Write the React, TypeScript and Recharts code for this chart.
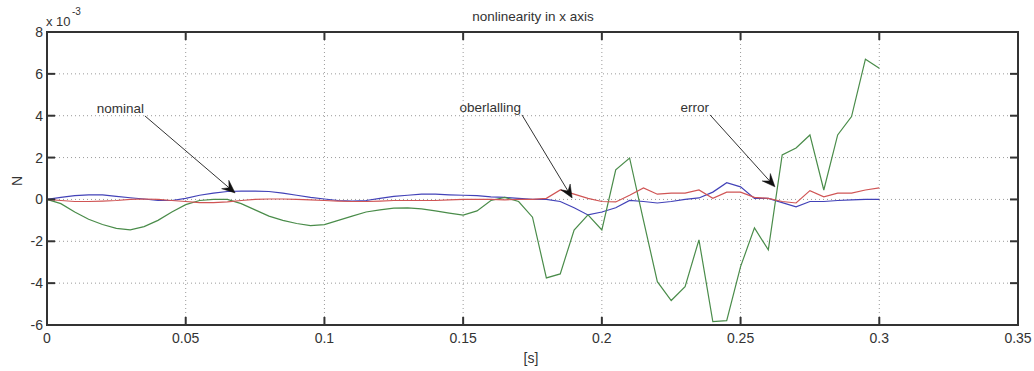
import React from 'react';
import { LineChart, Line, XAxis, YAxis, CartesianGrid, ReferenceLine } from 'recharts';

// time axis [s]
const time = [
  0, 0.005, 0.01, 0.015, 0.02, 0.025, 0.03, 0.035, 0.04, 0.045,
  0.05, 0.055, 0.06, 0.065, 0.07, 0.075, 0.08, 0.085, 0.09, 0.095,
  0.1, 0.105, 0.11, 0.115, 0.12, 0.125, 0.13, 0.135, 0.14, 0.145,
  0.15, 0.155, 0.16, 0.165, 0.17, 0.175, 0.18, 0.185, 0.19, 0.195,
  0.2, 0.205, 0.21, 0.215, 0.22, 0.225, 0.23, 0.235, 0.24, 0.245,
  0.25, 0.255, 0.26, 0.265, 0.27, 0.275, 0.28, 0.285, 0.29, 0.295,
  0.3,
];

// values in units of 1e-3 N
const nominal = [
  0, 0.1, 0.18, 0.22, 0.22, 0.15, 0.08, 0.02, -0.05, -0.05,
  0.05, 0.2, 0.3, 0.38, 0.4, 0.4, 0.38, 0.3, 0.2, 0.1,
  0.02, -0.05, -0.08, -0.05, 0.05, 0.15, 0.2, 0.25, 0.25, 0.22,
  0.2, 0.18, 0.12, 0.1, 0.05, 0, 0, -0.1, -0.4, -0.74,
  -0.6, -0.4, -0.05, -0.1, -0.17, -0.1, 0, 0.07, 0.35, 0.8,
  0.6, 0.05, 0.05, -0.15, -0.35, -0.1, -0.1, -0.05, -0.02, 0,
  0,
];

const oberlalling = [
  0, -0.05, -0.1, -0.1, -0.08, -0.05, 0, 0.02, 0, -0.05,
  -0.1, -0.15, -0.15, -0.12, -0.05, 0, 0.02, 0.02, 0, -0.02,
  -0.05, -0.08, -0.1, -0.1, -0.08, -0.05, -0.05, -0.05, -0.05, -0.02,
  0, 0, 0, -0.02, 0, 0, 0.05, 0.45, 0.25, 0.05,
  -0.1, -0.12, 0.2, 0.55, 0.25, 0.3, 0.3, 0.45, 0.05, 0.35,
  0.35, 0.1, 0.05, -0.1, -0.17, 0.42, 0.12, 0.3, 0.3, 0.45,
  0.55,
];

const errorValues = [
  0, -0.2, -0.6, -0.95, -1.2, -1.38, -1.45, -1.3, -1.0, -0.6,
  -0.25, -0.05, 0, 0, -0.2, -0.5, -0.8, -1.0, -1.15, -1.25,
  -1.2, -1.0, -0.8, -0.6, -0.5, -0.42, -0.4, -0.45, -0.55, -0.65,
  -0.75, -0.55, -0.05, 0.1, -0.1, -0.85, -3.75, -3.56, -1.46, -0.74,
  -1.46, 1.41, 1.98, -1.0, -3.93, -4.83, -4.17, -1.93, -5.84, -5.79,
  -3.21, -1.36, -2.41, 2.13, 2.46, 3.08, 0.45, 3.08, 3.96, 6.7,
  6.27,
];

const xTicks = [0, 0.05, 0.1, 0.15, 0.2, 0.25, 0.3, 0.35];
const xTickLabels = ['0', '0.05', '0.1', '0.15', '0.2', '0.25', '0.3', '0.35'];
const yTicks = [-6, -4, -2, 0, 2, 4, 6, 8];
const yTickLabels = ['-6', '-4', '-2', '0', '2', '4', '6', '8'];

const X_MIN = 0;
const X_MAX = 0.35;
const Y_MIN = -6;
const Y_MAX = 8;

const annotations = [
  { text: 'nominal', x1: 0.0353, y1: 3.99, x2: 0.0678, y2: 0.31 },
  { text: 'oberlalling', x1: 0.1712, y1: 4.04, x2: 0.1893, y2: 0.07 },
  { text: 'error', x1: 0.239, y1: 4.04, x2: 0.2624, y2: 0.6 },
];

const data = time.map((t, i) => ({
  t,
  nominal: nominal[i],
  oberlalling: oberlalling[i],
  error: errorValues[i],
}));

// layout
const W = 1034;
const H = 371;
const MARGIN = { top: 32, right: 16, bottom: 16, left: 0 };
const Y_AXIS_W = 47;
const X_AXIS_H = 30;
const PLOT_L = MARGIN.left + Y_AXIS_W;
const PLOT_R = W - MARGIN.right;
const PLOT_T = MARGIN.top;
const PLOT_B = H - MARGIN.bottom - X_AXIS_H;

const FONT = '"Liberation Sans", Arial, Helvetica, sans-serif';
const TEXT = '#333';
const AXIS = '#333333';
const TICK_LEN = 8;

const px = (v: number) => PLOT_L + ((v - X_MIN) / (X_MAX - X_MIN)) * (PLOT_R - PLOT_L);
const py = (v: number) => PLOT_T + ((Y_MAX - v) / (Y_MAX - Y_MIN)) * (PLOT_B - PLOT_T);

const XTick = (props: any) => {
  const { x, y, payload } = props;
  const idx = xTicks.indexOf(payload.value);
  const label = idx >= 0 ? xTickLabels[idx] : String(payload.value);
  return (
    <text x={x} y={y + 18} textAnchor="middle" fontSize={14} fontFamily={FONT} fill={TEXT}>
      {label}
    </text>
  );
};

const YTick = (props: any) => {
  const { x, y, payload } = props;
  const idx = yTicks.indexOf(payload.value);
  const label = idx >= 0 ? yTickLabels[idx] : String(payload.value);
  return (
    <text x={x - 4} y={y + 5} textAnchor="end" fontSize={14} fontFamily={FONT} fill={TEXT}>
      {label}
    </text>
  );
};

const makeArrow = (text: string) => (props: any) => {
  const { x1, y1, x2, y2 } = props;
  const dx = x2 - x1;
  const dy = y2 - y1;
  const len = Math.hypot(dx, dy) || 1;
  const ux = dx / len;
  const uy = dy / len;
  const nx0 = -uy;
  const ny0 = ux;
  const L = 13;
  const HW = 5.5;
  const N = 8;
  const bx = x2 - ux * L;
  const by = y2 - uy * L;
  const nx = x2 - ux * N;
  const ny = y2 - uy * N;
  const pts = `${x2},${y2} ${bx + nx0 * HW},${by + ny0 * HW} ${nx},${ny} ${bx - nx0 * HW},${by - ny0 * HW}`;
  return (
    <g>
      <line x1={x1} y1={y1} x2={nx} y2={ny} stroke="#333" strokeWidth={1} />
      <polygon points={pts} fill="#111" stroke="#111" strokeWidth={0.5} />
      <text x={x1 - 1} y={y1 - 3} textAnchor="end" fontSize={13.5} fontFamily={FONT} fill={TEXT}>
        {text}
      </text>
    </g>
  );
};

export default function App() {
  return (
    <div
      style={{
        position: 'absolute',
        left: 0,
        top: 0,
        width: W,
        height: H,
        background: '#fff',
        fontFamily: FONT,
      }}
    >
      <LineChart width={W} height={H} data={data} margin={MARGIN}>
        <CartesianGrid stroke="#9a9a9a" strokeDasharray="1 3" strokeWidth={1} />
        <XAxis
          dataKey="t"
          type="number"
          domain={[X_MIN, X_MAX]}
          ticks={xTicks}
          interval={0}
          tickLine={false}
          tickSize={0}
          tickMargin={0}
          tick={XTick}
          axisLine={{ stroke: AXIS, strokeWidth: 2 }}
          height={X_AXIS_H}
        />
        <YAxis
          type="number"
          domain={[Y_MIN, Y_MAX]}
          ticks={yTicks}
          interval={0}
          tickLine={false}
          tickSize={0}
          tickMargin={0}
          tick={YTick}
          axisLine={{ stroke: AXIS, strokeWidth: 2 }}
          width={Y_AXIS_W}
        />
        <Line
          dataKey="nominal"
          stroke="#4242b8"
          strokeWidth={1.2}
          dot={false}
          type="linear"
          isAnimationActive={false}
        />
        <Line
          dataKey="error"
          stroke="#4a8c4a"
          strokeWidth={1.2}
          dot={false}
          type="linear"
          isAnimationActive={false}
        />
        <Line
          dataKey="oberlalling"
          stroke="#d05555"
          strokeWidth={1.2}
          dot={false}
          type="linear"
          isAnimationActive={false}
        />
        {annotations.map((a) => (
          <ReferenceLine
            key={a.text}
            segment={[
              { x: a.x1, y: a.y1 },
              { x: a.x2, y: a.y2 },
            ]}
            ifOverflow="visible"
            shape={makeArrow(a.text)}
          />
        ))}
      </LineChart>

      {/* axes box with inward tick marks on all four sides */}
      <svg
        width={W}
        height={H}
        style={{ position: 'absolute', left: 0, top: 0, pointerEvents: 'none' }}
      >
        <rect
          x={PLOT_L}
          y={PLOT_T}
          width={PLOT_R - PLOT_L}
          height={PLOT_B - PLOT_T}
          fill="none"
          stroke={AXIS}
          strokeWidth={2}
        />
        {xTicks.map((v) => (
          <g key={`xt${v}`}>
            <line x1={px(v)} y1={PLOT_B} x2={px(v)} y2={PLOT_B - TICK_LEN} stroke={AXIS} strokeWidth={2} />
            <line x1={px(v)} y1={PLOT_T} x2={px(v)} y2={PLOT_T + TICK_LEN} stroke={AXIS} strokeWidth={2} />
          </g>
        ))}
        {yTicks.map((v) => (
          <g key={`yt${v}`}>
            <line x1={PLOT_L} y1={py(v)} x2={PLOT_L + TICK_LEN} y2={py(v)} stroke={AXIS} strokeWidth={2} />
            <line x1={PLOT_R} y1={py(v)} x2={PLOT_R - TICK_LEN} y2={py(v)} stroke={AXIS} strokeWidth={2} />
          </g>
        ))}
      </svg>

      <div
        style={{
          position: 'absolute',
          left: 533,
          top: 9.5,
          transform: 'translateX(-50%)',
          fontSize: 13.5,
          lineHeight: '13.5px',
          color: TEXT,
          whiteSpace: 'nowrap',
        }}
      >
        nonlinearity in x axis
      </div>
      <div
        style={{
          position: 'absolute',
          left: 46,
          top: 15,
          fontSize: 13,
          lineHeight: '13px',
          color: TEXT,
          whiteSpace: 'nowrap',
        }}
      >
        x 10
      </div>
      <div
        style={{
          position: 'absolute',
          left: 72,
          top: 6.5,
          fontSize: 10,
          lineHeight: '10px',
          color: TEXT,
          whiteSpace: 'nowrap',
        }}
      >
        -3
      </div>
      <div
        style={{
          position: 'absolute',
          left: 17,
          top: 181,
          transform: 'translate(-50%, -50%) rotate(-90deg)',
          fontSize: 14,
          lineHeight: '14px',
          color: TEXT,
          whiteSpace: 'nowrap',
        }}
      >
        N
      </div>
      <div
        style={{
          position: 'absolute',
          left: 531,
          top: 358,
          transform: 'translate(-50%, -50%)',
          fontSize: 14,
          lineHeight: '14px',
          color: TEXT,
          whiteSpace: 'nowrap',
        }}
      >
        [s]
      </div>
    </div>
  );
}
